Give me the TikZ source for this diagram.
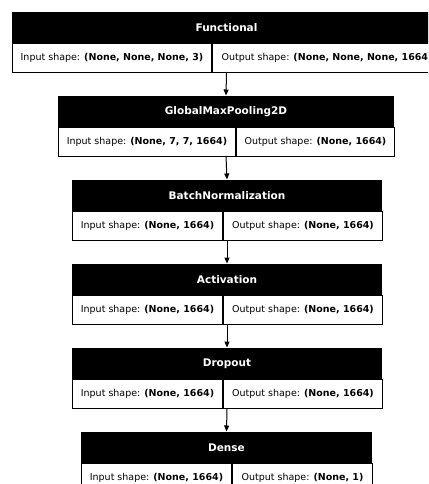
\documentclass[tikz,border=0pt]{standalone}
\usepackage{fontspec}
\setmainfont{DejaVu Sans}
\usetikzlibrary{arrows.meta,calc}
\tikzset{
  hdr/.style={draw=black, fill=black, text=white, font=\fontsize{10.5}{12}\selectfont\bfseries, minimum height=30pt, inner sep=0pt, anchor=north west, line width=1pt},
  cell/.style={draw=black, fill=white, text=black, font=\fontsize{9.5}{11}\selectfont, minimum height=29pt, inner sep=0pt, line width=1pt},
  arr/.style={-{Triangle[length=6pt,width=5pt]}, line width=1pt, shorten >=0.5pt}
}
% #1 name, #2 top, #3 left, #4 divider, #5 right, #6 title, #7 input, #8 output
\newcommand{\kerlayer}[8]{%
  \node[hdr, minimum width={(#5-#3)*1pt}] (#1-h) at (#3pt,-#2pt) {#6};
  \node[cell, anchor=north west, minimum width={(#4-#3)*1pt}] (#1-i) at (#1-h.south west) {Input shape: \textbf{#7}};
  \node[cell, anchor=north west, minimum width={(#5-#4)*1pt}] (#1-o) at (#1-i.north east) {Output shape: \textbf{#8}};
  \coordinate (#1-b) at ($(#1-h.south)+(0,-29pt)$);
}
\begin{document}
\begin{tikzpicture}[x=1pt,y=1pt]
\useasboundingbox (0,0) rectangle (428,-484);
\clip (0,0) rectangle (428,-484);
\fill[white] (0,0) rectangle (428,-484);
\kerlayer{fun}{12}{12}{211}{440}{Functional}{(None, None, None, 3)}{(None, None, None, 1664)}
\kerlayer{gmp}{96}{58}{235}{393}{GlobalMaxPooling2D}{(None, 7, 7, 1664)}{(None, 1664)}
\kerlayer{bn}{180}{72}{222}{381}{BatchNormalization}{(None, 1664)}{(None, 1664)}
\kerlayer{act}{264}{72}{222}{381}{Activation}{(None, 1664)}{(None, 1664)}
\kerlayer{drop}{348}{72}{222}{381}{Dropout}{(None, 1664)}{(None, 1664)}
\kerlayer{den}{432}{81}{231}{371}{Dense}{(None, 1664)}{(None, 1)}
\draw[arr] (fun-b) -- (gmp-h.north);
\draw[arr] (gmp-b) -- (bn-h.north);
\draw[arr] (bn-b) -- (act-h.north);
\draw[arr] (act-b) -- (drop-h.north);
\draw[arr] (drop-b) -- (den-h.north);
\end{tikzpicture}
\end{document}
